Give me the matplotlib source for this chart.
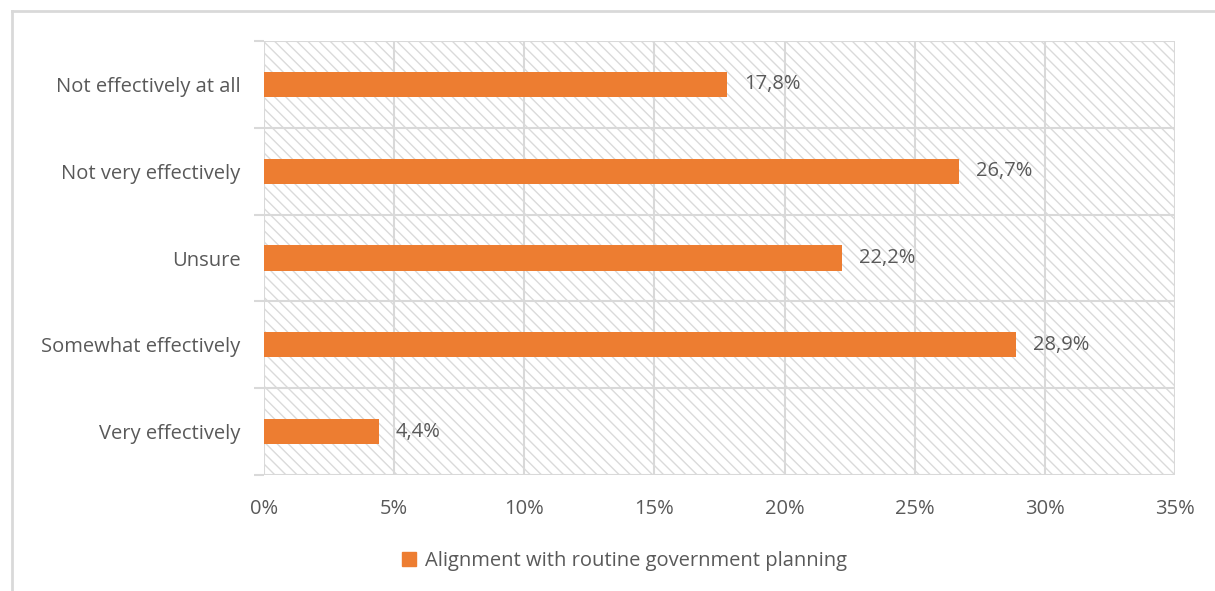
import matplotlib
matplotlib.use("Agg")
import matplotlib.pyplot as plt
from matplotlib.lines import Line2D
from matplotlib.patches import Rectangle
from matplotlib.ticker import FixedLocator

categories = ["Not effectively at all", "Not very effectively", "Unsure",
              "Somewhat effectively", "Very effectively"]
values = [17.8, 26.7, 22.2, 28.9, 4.4]
value_labels = ["17,8%", "26,7%", "22,2%", "28,9%", "4,4%"]
xticks = [0, 5, 10, 15, 20, 25, 30, 35]
xtick_labels = ["0%", "5%", "10%", "15%", "20%", "25%", "30%", "35%"]
series_name = "Alignment with routine government planning"

orange = "#ED7D31"
grid = "#D9D9D9"
text = "#595959"
fs = 14.5

plt.rcParams['font.family'] = ['Open Sans', 'DejaVu Sans']
plt.rcParams['hatch.color'] = "#DADADA"
plt.rcParams['hatch.linewidth'] = 1.0

fig = plt.figure(figsize=(12.15, 5.91), dpi=100)
ax = fig.add_axes([264/1215, 1-475/591, (1175-264)/1215, (475-41)/591])

n = len(categories)
ypos = list(range(n))[::-1]  # first category at top

ax.set_xlim(0, 35)
ax.set_ylim(-0.5, n - 0.5)

# hatched background
bg = Rectangle((0, 0), 1, 1, transform=ax.transAxes, facecolor="white",
               edgecolor="#DADADA", hatch="\\\\\\", linewidth=0, zorder=0)
ax.add_patch(bg)

# grid lines
for x in xticks:
    ax.axvline(x, color=grid, lw=1.5, zorder=1)
for b in [i - 0.5 for i in range(n + 1)]:
    ax.axhline(b, color=grid, lw=1.5, zorder=1)

ax.barh(ypos, values, height=0.29, color=orange, zorder=3)

for y, v, lab in zip(ypos, values, value_labels):
    ax.text(v + 0.65, y, lab, va="center", ha="left", fontsize=fs, color=text, zorder=4)

for s in ax.spines.values():
    s.set_visible(False)

ax.set_xticks(xticks)
ax.set_xticklabels(xtick_labels, fontsize=fs, color=text)
ax.tick_params(axis="x", length=0, pad=17)

ax.set_yticks(ypos)
ax.set_yticklabels(categories, fontsize=fs, color=text)
ax.tick_params(axis="y", which="major", length=0, pad=17)
ax.yaxis.set_minor_locator(FixedLocator([i - 0.5 for i in range(n + 1)]))
ax.tick_params(axis="y", which="minor", length=7, color=grid, width=1.5)

# legend
handle = Line2D([], [], marker="s", linestyle="none", markersize=10,
                markerfacecolor=orange, markeredgecolor=orange)
fig.legend([handle], [series_name], loc="center", bbox_to_anchor=(623/1215, 1-561/591),
           frameon=False, fontsize=fs, labelcolor=text, handletextpad=0.3, handlelength=1.0)

# outer frame (top and left edges visible)
fig.add_artist(Line2D([12/1215, 1.0], [1-11/591, 1-11/591], transform=fig.transFigure,
                      color=grid, lw=2))
fig.add_artist(Line2D([12/1215, 12/1215], [0, 1-11/591], transform=fig.transFigure,
                      color=grid, lw=2))

fig.savefig("out.png", dpi=100, facecolor="white")
